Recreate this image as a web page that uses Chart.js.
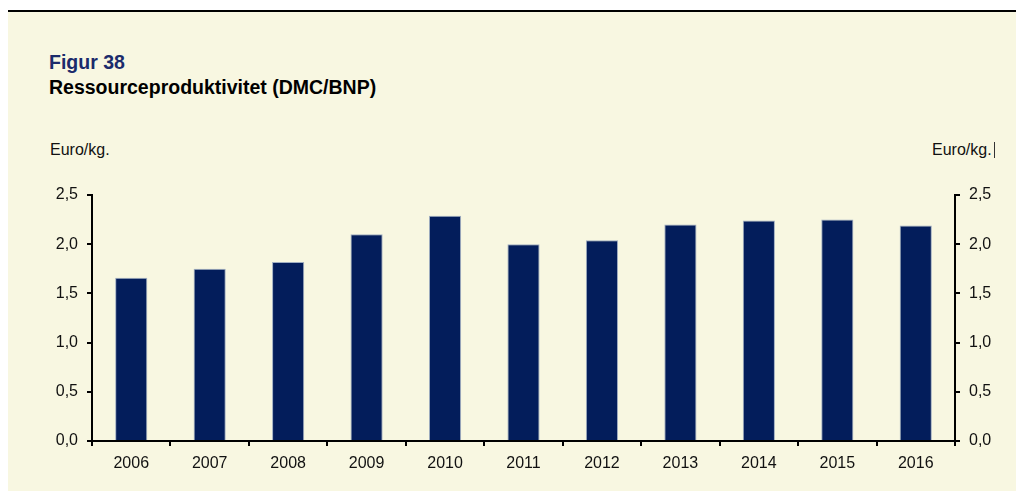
<!DOCTYPE html>
<html>
<head>
<meta charset="utf-8">
<script src="https://cdn.jsdelivr.net/npm/chart.js@4/dist/chart.umd.min.js"></script>
<style>
  html, body { margin: 0; padding: 0; background: #ffffff; }
  body { width: 1016px; height: 491px; position: relative; overflow: hidden;
         font-family: "Liberation Sans", Arial, sans-serif; }
  #panel { position: absolute; left: 8px; top: 10px; width: 1008px; height: 479px;
           background: #f8f7e1; border-top: 2px solid #000; }
  .txt { position: absolute; white-space: nowrap; line-height: 1; }
  #fig { left: 49px; top: 53px; font-size: 19.5px; font-weight: bold; color: #1b2b6b; }
  #ttl { left: 49px; top: 78px; font-size: 19.5px; font-weight: bold; color: #000; }
  #unitL { left: 50px; top: 142px; font-size: 16px; color: #111; }
  #unitR { left: 932px; top: 142px; font-size: 16px; color: #111;
           border-right: 1px solid #333; padding-right: 2px; }
  #wrap { position: absolute; left: 0; top: 0; width: 1016px; height: 491px; }
</style>
</head>
<body>
<div id="panel"></div>
<div class="txt" id="fig">Figur 38</div>
<div class="txt" id="ttl">Ressourceproduktivitet (DMC/BNP)</div>
<div class="txt" id="unitL">Euro/kg.</div>
<div class="txt" id="unitR">Euro/kg.</div>
<div id="wrap"><canvas id="c" width="1016" height="491"></canvas></div>
<script>
// år
var years = ['2006', '2007', '2008', '2009', '2010', '2011', '2012', '2013', '2014', '2015', '2016'];
// Euro pr. kg
var values = [1.66, 1.75, 1.82, 2.10, 2.29, 2.00, 2.04, 2.20, 2.24, 2.25, 2.19];
var yTicks = [0, 0.5, 1.0, 1.5, 2.0, 2.5];

function fmt(v)
{
    return v.toFixed(1).replace('.', ',');
}

var axisFont = { family: '"Liberation Sans", Arial, sans-serif', size: 16 };

// fast bredde på de to y-akser
function fitY(s)
{
    s.width = s.position === 'left' ? 92 : 61;
}

function yAxis(pos)
{
    return {
        type: 'linear',
        position: pos,
        min: 0,
        max: 2.5,
        afterBuildTicks: function (s) { s.ticks = yTicks.map(function (v) { return { value: v }; }); },
        afterFit: fitY,
        border: { display: true, color: '#000', width: 2 },
        grid: { drawOnChartArea: false, drawTicks: true, tickLength: 5, color: '#000', lineWidth: 2 },
        ticks: { color: '#111', font: axisFont, padding: 9, callback: function (v) { return fmt(v); } }
    };
}

var ctx = document.getElementById('c').getContext('2d');
var chart = new Chart(ctx, {
    type: 'bar',
    data: {
        labels: years,
        datasets: [{
            label: 'Ressourceproduktivitet',
            data: values,
            yAxisID: 'y',
            backgroundColor: '#031d5b',
            borderColor: 'rgba(150, 165, 190, 0.9)',
            borderWidth: 1,
            categoryPercentage: 1,
            barPercentage: 0.41
        }]
    },
    options: {
        responsive: false,
        animation: false,
        devicePixelRatio: 1,
        layout: { padding: { left: 0, right: 0, top: 195, bottom: 0 } },
        plugins: { legend: { display: false }, tooltip: { enabled: false } },
        scales: {
            x: {
                offset: true,
                afterFit: function (s) { s.height = 50; },
                border: { display: true, color: '#000', width: 2 },
                grid: { offset: true, drawOnChartArea: false, drawTicks: true, tickLength: 5, color: '#000', lineWidth: 2 },
                ticks: { color: '#111', font: axisFont, padding: 8, maxRotation: 0 }
            },
            y: yAxis('left'),
            y2: yAxis('right')
        }
    }
});
</script>
</body>
</html>
